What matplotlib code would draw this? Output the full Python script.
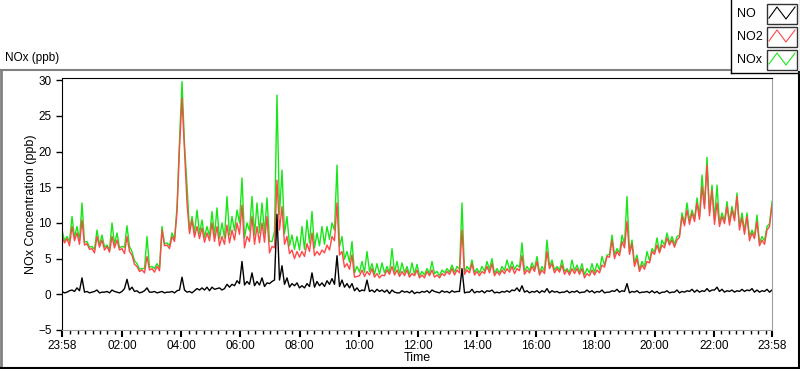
import datetime as dt

import matplotlib

matplotlib.use("Agg")
import matplotlib.dates as mdates
import matplotlib.pyplot as plt
import numpy as np
from matplotlib.lines import Line2D
from matplotlib.patches import Rectangle

# readings every ~10 min from 23:58 to 23:58 the next day (ppb)
NOX = [
    9.0, 8.1, 10.9, 9.5, 12.8, 7.4, 6.7, 9.0, 8.3, 6.9, 10.0, 8.6, 6.7, 9.6, 6.0, 4.3, 3.6, 8.1, 3.9, 4.3, 9.5, 7.2, 8.6, 12.2, 29.8,
    15.3, 10.9, 11.8, 10.4, 9.5, 11.6, 12.1, 10.0, 13.7, 10.9, 11.8, 16.3, 10.0, 13.7, 12.8, 12.8, 13.5, 7.4, 27.9, 17.4, 10.9, 8.3, 8.1, 9.5,
    10.4, 11.6, 8.6, 9.5, 9.5, 10.0, 18.1, 8.1, 6.0, 7.4, 3.9, 4.6, 6.0, 4.3, 4.3, 4.4, 3.9, 6.4, 4.6, 4.4, 3.9, 4.4, 4.2, 3.2,
    3.6, 4.6, 3.2, 3.4, 3.6, 4.1, 3.9, 12.8, 3.9, 4.8, 3.6, 3.9, 4.6, 5.0, 3.6, 3.9, 4.8, 4.6, 4.1, 7.2, 3.9, 4.4, 5.3, 3.9,
    7.6, 4.8, 3.9, 4.8, 3.6, 4.8, 4.1, 4.3, 3.6, 4.3, 4.3, 5.3, 5.5, 8.3, 6.4, 8.3, 13.7, 7.6, 5.5, 4.6, 6.0, 6.4, 7.9, 7.6,
    8.6, 8.1, 8.1, 11.4, 12.8, 11.8, 13.5, 16.7, 19.2, 15.3, 15.3, 11.4, 13.0, 12.3, 14.2, 11.4, 11.4, 9.0, 11.1, 8.1, 9.5, 13.0,
]
NO2 = [
    8.1, 7.8, 9.5, 8.6, 10.4, 7.1, 6.4, 8.1, 7.6, 6.7, 8.1, 7.6, 6.4, 8.1, 5.5, 3.9, 3.4, 5.3, 3.6, 3.9, 9.0, 6.9, 8.1, 11.5, 27.5,
    12.8, 10.4, 9.5, 9.3, 8.6, 10.0, 9.5, 8.1, 9.7, 9.0, 10.0, 12.5, 8.1, 10.9, 9.5, 10.0, 10.9, 6.7, 16.0, 12.3, 8.1, 6.2, 6.0, 6.0,
    7.1, 8.6, 6.0, 6.2, 6.9, 8.1, 12.8, 6.0, 4.3, 5.5, 2.5, 3.4, 3.2, 3.6, 2.9, 2.7, 3.4, 3.9, 3.4, 3.2, 3.4, 2.9, 3.4, 2.7,
    3.2, 3.4, 2.7, 2.9, 3.2, 3.6, 3.4, 9.0, 3.4, 4.3, 3.2, 3.2, 3.9, 4.3, 3.2, 3.4, 3.6, 3.9, 3.6, 5.4, 3.4, 3.9, 4.6, 3.4,
    6.0, 4.3, 3.6, 4.1, 3.4, 3.6, 3.6, 3.6, 2.9, 3.4, 3.4, 4.1, 5.3, 7.6, 6.0, 7.4, 10.2, 7.1, 5.0, 4.1, 4.6, 6.0, 6.9, 6.9,
    7.9, 7.6, 7.6, 10.9, 11.8, 11.4, 12.8, 15.1, 18.1, 14.6, 12.8, 10.9, 12.3, 11.8, 13.7, 10.7, 10.9, 8.6, 10.2, 7.6, 9.0, 12.5,
]
NO = [
    0.4, 0.3, 0.6, 0.9, 2.3, 0.4, 0.3, 0.6, 0.3, 0.4, 0.6, 0.3, 0.4, 2.1, 1.0, 0.5, 0.3, 0.9, 0.3, 0.2, 0.4, 0.3, 0.4, 0.5, 2.4,
    0.3, 0.2, 0.8, 0.9, 1.0, 1.0, 0.8, 0.6, 1.4, 1.4, 1.9, 4.6, 1.8, 3.0, 1.8, 2.3, 1.6, 1.8, 11.2, 4.0, 2.3, 1.5, 1.6, 1.2,
    1.5, 3.0, 1.8, 1.6, 1.9, 2.2, 5.4, 2.0, 1.5, 1.5, 0.9, 0.6, 2.0, 0.6, 0.7, 0.6, 0.6, 0.6, 0.2, 0.5, 0.4, 0.5, 0.3, 0.4,
    0.5, 0.6, 0.3, 0.5, 0.4, 0.5, 0.4, 3.6, 0.3, 0.7, 0.4, 0.5, 0.5, 0.6, 0.3, 0.4, 0.5, 0.6, 0.9, 1.2, 0.5, 0.4, 0.5, 0.5,
    0.8, 0.5, 0.4, 0.3, 0.5, 0.4, 0.5, 0.3, 0.6, 0.5, 0.4, 0.6, 0.3, 0.5, 0.7, 0.5, 1.5, 0.4, 0.5, 0.3, 0.4, 0.5, 0.4, 0.3,
    0.5, 0.3, 0.6, 0.4, 0.5, 0.7, 0.6, 0.5, 0.8, 0.6, 1.0, 0.7, 0.5, 0.6, 0.5, 0.7, 0.6, 0.8, 0.6, 0.5, 0.7, 0.6,
]
# troughs read between consecutive readings above (the noisy lower edge)
NOX_MID = [
    7.5, 7.4, 8.0, 7.6, 7.3, 6.6, 6.3, 6.9, 6.6, 6.2, 7.0, 6.5, 6.6, 6.7, 4.7, 3.5, 3.6, 3.8, 3.6, 3.7, 7.1, 6.8, 7.7, 21.5,
    21.0, 9.0, 8.6, 8.5, 8.0, 8.1, 8.2, 7.8, 7.9, 8.3, 8.9, 10.0, 7.9, 8.9, 8.3, 8.6, 8.5, 7.4, 8.8, 11.2, 8.5, 6.8, 6.3, 6.2,
    6.3, 7.2, 6.5, 6.8, 7.0, 7.7, 9.0, 6.7, 4.9, 4.5, 3.0, 3.1, 3.1, 3.2, 2.8, 2.8, 3.0, 3.0, 3.1, 2.8, 3.0, 2.7, 2.8, 2.6,
    2.7, 2.9, 2.9, 2.6, 3.0, 3.1, 3.1, 3.5, 3.1, 3.4, 3.0, 3.0, 3.2, 3.5, 2.9, 3.0, 3.3, 3.5, 3.5, 3.8, 3.2, 3.3, 3.6, 3.0,
    3.3, 3.9, 3.4, 3.4, 3.2, 3.0, 3.3, 3.1, 2.7, 3.0, 3.0, 3.4, 4.1, 5.6, 5.5, 5.8, 7.0, 5.9, 4.3, 3.5, 3.9, 4.7, 5.9, 6.0,
    6.9, 7.2, 7.0, 8.3, 10.0, 10.3, 10.6, 10.9, 12.5, 11.5, 10.5, 10.0, 10.3, 10.2, 10.7, 9.5, 8.9, 8.1, 8.2, 7.2, 7.5, 9.9,
]
NO2_MID = [
    7.2, 6.8, 7.5, 7.0, 6.9, 6.3, 5.8, 6.6, 6.2, 5.9, 6.5, 6.2, 5.7, 6.0, 4.2, 3.2, 3.0, 3.4, 3.1, 3.3, 6.8, 6.4, 7.4, 20.5,
    20.0, 8.5, 8.0, 7.8, 7.3, 7.5, 7.4, 6.8, 7.0, 7.2, 7.6, 8.4, 6.5, 7.4, 7.0, 7.2, 7.3, 5.8, 6.5, 9.0, 7.0, 5.7, 5.0, 5.2,
    5.3, 6.0, 5.4, 5.5, 5.8, 6.2, 7.5, 5.5, 3.8, 3.5, 2.4, 2.6, 2.5, 2.7, 2.4, 2.3, 2.6, 2.8, 2.7, 2.5, 2.6, 2.4, 2.6, 2.3,
    2.3, 2.6, 2.4, 2.3, 2.6, 2.8, 2.7, 3.0, 2.8, 3.0, 2.7, 2.6, 2.9, 3.0, 2.6, 2.7, 2.9, 3.1, 2.9, 3.3, 2.8, 3.0, 3.2, 2.7,
    2.9, 3.6, 3.0, 3.1, 2.8, 2.7, 2.9, 2.8, 2.3, 2.6, 2.7, 3.0, 3.8, 5.2, 5.0, 5.4, 6.5, 5.6, 3.9, 3.2, 3.5, 4.4, 5.6, 5.8,
    6.5, 6.9, 6.6, 8.0, 9.6, 9.8, 10.2, 10.5, 12.0, 11.0, 9.8, 9.5, 9.9, 9.7, 10.3, 9.0, 8.4, 7.5, 7.8, 6.8, 7.0, 9.5,
]
NO_MID = [
    0.2, 0.5, 0.4, 0.5, 0.3, 0.2, 0.4, 0.2, 0.3, 0.2, 0.4, 0.2, 0.8, 0.6, 0.4, 0.2, 0.5, 0.3, 0.4, 0.3, 0.2, 0.3, 0.2, 0.6,
    0.6, 0.4, 0.5, 0.6, 0.6, 0.5, 0.7, 0.9, 0.8, 1.0, 1.2, 1.5, 1.3, 1.4, 1.2, 1.3, 1.1, 1.5, 2.0, 2.0, 1.4, 1.0, 1.2, 0.9,
    0.9, 1.1, 1.0, 1.2, 1.1, 1.4, 1.4, 1.1, 1.0, 0.9, 0.5, 0.4, 0.5, 0.4, 0.3, 0.4, 0.3, 0.1, 0.3, 0.2, 0.3, 0.2, 0.1, 0.2,
    0.3, 0.2, 0.4, 0.2, 0.3, 0.2, 0.3, 0.4, 0.2, 0.3, 0.2, 0.3, 0.2, 0.4, 0.2, 0.2, 0.3, 0.3, 0.5, 0.4, 0.3, 0.2, 0.3, 0.2,
    0.3, 0.2, 0.3, 0.2, 0.3, 0.2, 0.3, 0.2, 0.3, 0.3, 0.2, 0.3, 0.2, 0.3, 0.4, 0.3, 0.4, 0.2, 0.3, 0.2, 0.3, 0.2, 0.2, 0.1,
    0.3, 0.2, 0.3, 0.2, 0.3, 0.4, 0.3, 0.3, 0.4, 0.4, 0.6, 0.4, 0.3, 0.4, 0.3, 0.4, 0.4, 0.5, 0.3, 0.3, 0.4, 0.3,
]
START = dt.datetime(2020, 1, 1, 23, 58)
END = START + dt.timedelta(hours=24)
TICK_HOURS = [2, 4, 6, 8, 10, 12, 14, 16, 18, 20, 22]
SERIES = [
    ("NOx", NOX, NOX_MID, "#19e619"),
    ("NO2", NO2, NO2_MID, "#ff4848"),
    ("NO", NO, NO_MID, "#000000"),
]

FONT = "Liberation Sans"
W, H = 800, 369


def px(x, y):
    return x / W, 1 - y / H


def interleave(vals, mids):
    out = np.empty(len(vals) + len(mids))
    out[0::2] = vals
    out[1::2] = mids
    return out


n = 2 * len(NO) - 1
times = mdates.date2num(START) + np.linspace(0, 1, n)

fig = plt.figure(figsize=(W / 100, H / 100), dpi=100)
ax = fig.add_axes([62 / W, 1 - 330 / H, 710 / W, 252 / H])

for name, vals, mids, color in SERIES:
    ax.plot(times, interleave(vals, mids), color=color, linewidth=1.0)

ax.set_xlim(mdates.date2num(START), mdates.date2num(END))
ax.set_ylim(-5, 30.3)
ax.set_yticks(range(-5, 31, 5))

day0 = dt.datetime(2020, 1, 2)
major = [START] + [day0 + dt.timedelta(hours=h) for h in TICK_HOURS] + [END]
ax.set_xticks(mdates.date2num(major))
ax.set_xticklabels([t.strftime("%H:%M") for t in major])
minor = [day0 + dt.timedelta(minutes=15 * k) for k in range(1, 96) if k % 8]
ax.set_xticks(mdates.date2num(minor), minor=True)

ax.tick_params(axis="both", which="major", length=4, width=1, labelsize=8.5, color="black")
ax.tick_params(axis="x", which="major", length=5, width=1.5, pad=2)
ax.tick_params(axis="x", which="minor", length=3, width=1)
for label in ax.get_xticklabels() + ax.get_yticklabels():
    label.set_family(FONT)

ax.spines["left"].set_color("black")
ax.spines["top"].set_color("black")
ax.spines["right"].set_color("#a0a0a0")
ax.spines["bottom"].set_color("#a0a0a0")

ax.set_ylabel("NOx Concentration (ppb)", family=FONT, fontsize=9, labelpad=1)
ax.set_xlabel("Time", family=FONT, fontsize=9, labelpad=0)

# panel frame
fig.add_artist(Line2D(*zip(px(0, 69.5), px(730, 69.5)), color="#808080", lw=1.5))
fig.add_artist(Line2D(*zip(px(1, 69.5), px(1, 368)), color="#808080", lw=2))
fig.add_artist(Line2D(*zip(px(0, 367.5), px(799, 367.5)), color="black", lw=1.5))
fig.add_artist(Line2D(*zip(px(798.5, 72), px(798.5, 368)), color="black", lw=1.5))
fig.text(*px(5, 58), "NOx (ppb)", family=FONT, fontsize=8.5, va="center")

# legend panel
fig.add_artist(Line2D(*zip(px(730.5, 0), px(730.5, 72.5)), color="black", lw=1))
fig.add_artist(Line2D(*zip(px(730.5, 72.5), px(799, 72.5)), color="black", lw=1))
fig.add_artist(Line2D(*zip(px(799.5, 0), px(799.5, 72.5)), color="#a0a0a0", lw=1))
for i, (name, vals, mids, color) in enumerate(SERIES[::-1]):
    top = 4 + 23 * i
    fig.text(*px(737, top + 10), name, family=FONT, fontsize=9, va="center")
    x0, y0 = px(767, top + 20)
    x1, y1 = px(797, top)
    fig.add_artist(Rectangle((x0, y0), x1 - x0, y1 - y0, fill=False, ec="#333333", lw=1))
    zx = [769, 777, 786, 795]
    zy = [top + 14, top + 3, top + 15, top + 3]
    fig.add_artist(Line2D([x / W for x in zx], [1 - y / H for y in zy], color=color, lw=0.8))

fig.savefig("out.png", dpi=100, facecolor="white")
